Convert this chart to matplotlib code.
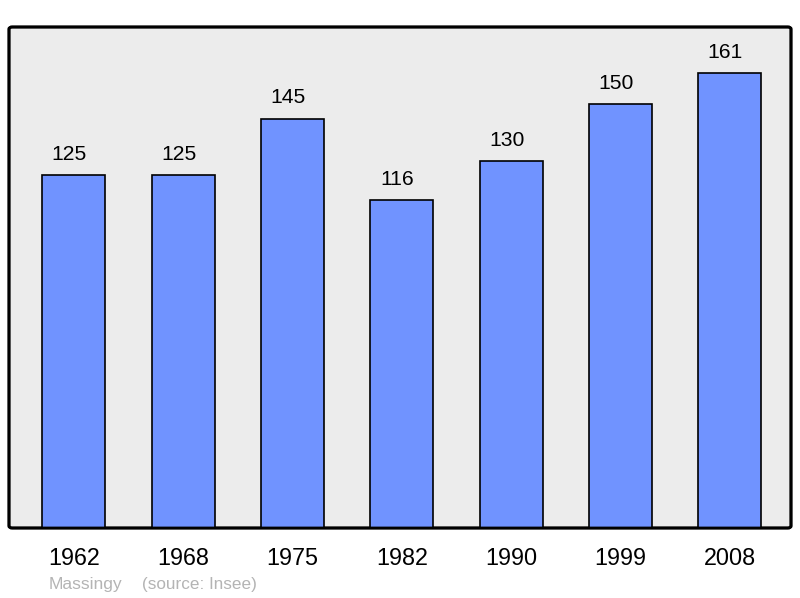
import matplotlib.pyplot as plt
from matplotlib.patches import FancyBboxPatch

years = ['1962', '1968', '1975', '1982', '1990', '1999', '2008']
population = [125, 125, 145, 116, 130, 150, 161]

plt.rcParams['font.family'] = ['Liberation Sans', 'DejaVu Sans']

fig = plt.figure(figsize=(8, 5.98), dpi=100)
ax = fig.add_axes([9 / 800, 70 / 598, 782 / 800, 501 / 598])
ax.set_facecolor('none')

x = range(len(years))
ax.bar(x, population, width=0.576, color='#7093ff', edgecolor='black',
       linewidth=1.2, zorder=2)
# les étiquettes sont un peu décalées vers la gauche dans l'original
for i, v in zip(x, population):
    ax.annotate(str(v), (i, v), xytext=(-3.3, 8), textcoords='offset points',
                ha='center', va='bottom', fontsize=15.2)

ax.set_xlim(-0.592, 6.558)
ax.set_ylim(0, 177.4)
ax.set_xticks(list(x))
ax.set_xticklabels(years, fontsize=16.8)
ax.tick_params(length=0, pad=13.5)
ax.set_yticks([])
for s in ax.spines.values():
    s.set_visible(False)

frame = FancyBboxPatch((0, 0), 1, 1, boxstyle='round,pad=0,rounding_size=0.004',
                       transform=ax.transAxes, facecolor='#ececec',
                       edgecolor='black', linewidth=2, zorder=0, clip_on=False)
ax.add_patch(frame)
border = FancyBboxPatch((0, 0), 1, 1, boxstyle='round,pad=0,rounding_size=0.004',
                        transform=ax.transAxes, facecolor='none',
                        edgecolor='black', linewidth=2, zorder=3, clip_on=False)
ax.add_patch(border)

fig.text(49 / 800, 1 - 585 / 598, 'Massingy', color='#b4b4b4', fontsize=12.5,
         va='center')
fig.text(142 / 800, 1 - 585 / 598, '(source: Insee)', color='#b4b4b4',
         fontsize=12.3, va='center')

fig.savefig('out.png', dpi=100)
